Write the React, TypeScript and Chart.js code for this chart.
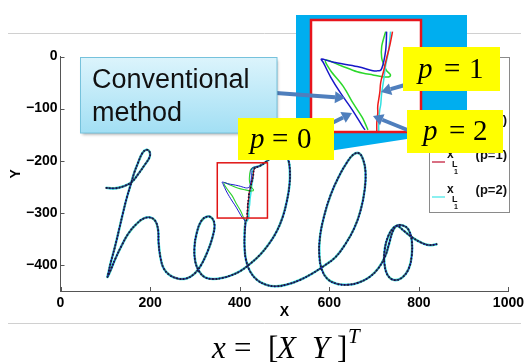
import React, { useEffect, useRef } from 'react';
import { Chart, registerables } from 'chart.js';
Chart.register(...registerables);

// ---------- axes ----------
const X_TICKS = [0, 200, 400, 600, 800, 1000];
const X_TICK_LABELS = ['0', '200', '400', '600', '800', '1000'];
const Y_TICKS = [0, -100, -200, -300, -400];
const Y_TICK_LABELS = ['0', '\u2212100', '\u2212200', '\u2212300', '\u2212400'];
const X_RANGE = [0, 1000];
const Y_RANGE = [-450, 0];

// ---------- handwriting trajectory "hello" (X, Y) ----------
// h, e and the rising stroke / top of the first l, down to the zoom window
const PATH_BEFORE: [number, number][] = [
  [101, -252], [121, -253], [141, -249], [159, -241], [174, -225], [188, -208], [199, -193], [199, -183],
  [192, -179], [183, -185], [174, -202], [165, -222], [157, -245], [148, -271], [139, -302], [130, -335],
  [121, -367], [112, -396], [107, -415], [105, -423],
  [112, -410], [123, -387], [137, -362], [152, -339], [170, -321], [185, -311], [201, -309], [212, -316],
  [218, -333], [219, -358], [223, -385], [230, -406], [243, -419], [261, -426], [281, -426], [299, -417],
  [314, -400], [328, -375], [339, -348], [344, -325], [339, -311], [328, -307], [314, -316], [304, -339],
  [299, -367], [301, -394], [310, -413], [323, -424], [341, -427], [361, -425],
  [381, -420], [401, -412], [423, -398], [445, -381], [465, -360], [483, -335], [496, -308], [505, -279],
  [511, -248], [512, -218], [508, -197], [499, -187], [485, -188], [472, -193], [459, -202], [445, -210],
];
// inside the zoom window (stem of the first l), one list per result
const WIN_RED: [number, number][] = [
  [433, -215], [430, -229], [427, -240], [424, -252], [421, -263], [420, -273], [418, -285], [418, -292], [417, -301], [417, -309],
];
const WIN_CYAN: [number, number][] = [
  [431, -215], [429, -233], [426, -247], [424, -261], [422, -273], [421, -284], [420, -289], [419, -299], [419, -310],
];
const WIN_BLUE: [number, number][] = [
  [427, -215], [426, -233], [422, -250], [418, -252], [413, -252], [397, -248], [373, -244], [361, -241],
  [363, -245], [370, -258], [380, -273], [392, -289], [402, -304], [405, -308],
];
const WIN_GREEN: [number, number][] = [
  [426, -215], [422, -229], [422, -240], [425, -248], [427, -252], [431, -256], [427, -258], [413, -256],
  [397, -253], [380, -247], [365, -242], [370, -252], [383, -267], [393, -283], [402, -296], [408, -308],
];
// rest of the first l, second l, o and the tail
const PATH_AFTER: [number, number][] = [
  [413, -319], [411, -342], [411, -367], [414, -390], [423, -412], [439, -429], [459, -438], [481, -441],
  [508, -437], [534, -429], [561, -417], [588, -402], [614, -385], [636, -360], [656, -329], [670, -295],
  [679, -256], [681, -222], [676, -199], [667, -186], [654, -188], [639, -204], [621, -231], [603, -266],
  [588, -308], [579, -348], [578, -383], [583, -408], [596, -427], [616, -436], [641, -438], [665, -434],
  [690, -423], [710, -406], [725, -383], [734, -358], [741, -337], [750, -325],
  [763, -324], [776, -331], [784, -352], [784, -383], [777, -408], [763, -424], [745, -429], [730, -419],
  [723, -396], [724, -369], [732, -344], [743, -329], [752, -325],
  [767, -335], [785, -347], [805, -357], [823, -362], [841, -360],
];
// zoom window in data units
const WIN_X = [350, 462];
const WIN_Y = [-310, -204];

const LEGEND_ITEMS = [
  { color: '#1c1cd0', sub: 'L', subNum: '2', tail: '' },
  { color: '#2fd02f', sub: 'L', subNum: '1', tail: '(p=0)' },
  { color: '#c01030', sub: 'L', subNum: '1', tail: '(p=1)' },
  { color: '#3ee6e6', sub: 'L', subNum: '1', tail: '(p=2)' },
];

const toXY = (arr: [number, number][]) => arr.map(([x, y]) => ({ x, y }));
const series = (win: [number, number][]) => toXY([...PATH_BEFORE, ...win, ...PATH_AFTER]);

function smoothPath(ctx: CanvasRenderingContext2D, pts: number[][]) {
  ctx.beginPath();
  ctx.moveTo(pts[0][0], pts[0][1]);
  for (let i = 0; i < pts.length - 1; i++) {
    const p0 = pts[i - 1] || pts[i];
    const p1 = pts[i];
    const p2 = pts[i + 1];
    const p3 = pts[i + 2] || p2;
    ctx.bezierCurveTo(
      p1[0] + (p2[0] - p0[0]) / 6, p1[1] + (p2[1] - p0[1]) / 6,
      p2[0] - (p3[0] - p1[0]) / 6, p2[1] - (p3[1] - p1[1]) / 6,
      p2[0], p2[1]
    );
  }
  ctx.stroke();
}

function arrow(ctx: CanvasRenderingContext2D, x1: number, y1: number, x2: number, y2: number) {
  const head = 10, hw = 12;
  const a = Math.atan2(y2 - y1, x2 - x1);
  const bx = x2 - head * Math.cos(a), by = y2 - head * Math.sin(a);
  ctx.strokeStyle = '#4f7fbd';
  ctx.fillStyle = '#4f7fbd';
  ctx.lineWidth = 4;
  ctx.lineCap = 'butt';
  ctx.beginPath(); ctx.moveTo(x1, y1); ctx.lineTo(bx, by); ctx.stroke();
  ctx.beginPath();
  ctx.moveTo(x2, y2);
  ctx.lineTo(bx + (hw / 2) * Math.sin(a), by - (hw / 2) * Math.cos(a));
  ctx.lineTo(bx - (hw / 2) * Math.sin(a), by + (hw / 2) * Math.cos(a));
  ctx.closePath(); ctx.fill();
}

function mathLabel(ctx: CanvasRenderingContext2D, px: number, eqx: number, dx: number, base: number, digit: string) {
  ctx.fillStyle = '#000';
  ctx.textAlign = 'left';
  ctx.textBaseline = 'alphabetic';
  ctx.font = 'italic 29px "Liberation Serif"';
  ctx.fillText('p', px, base);
  ctx.font = '29px "Liberation Serif"';
  ctx.fillText('=', eqx, base);
  ctx.fillText(digit, dx, base);
}

const overlay = {
  id: 'overlay',
  afterDraw(chart: any) {
    const ctx: CanvasRenderingContext2D = chart.ctx;
    const xs = chart.scales.x, ys = chart.scales.y;
    const area = chart.chartArea;
    ctx.save();

    // inward tick marks
    ctx.strokeStyle = '#555';
    ctx.lineWidth = 1;
    X_TICKS.forEach((v) => {
      const p = Math.round(xs.getPixelForValue(v)) + 0.5;
      ctx.beginPath(); ctx.moveTo(p, area.bottom); ctx.lineTo(p, area.bottom - 4); ctx.stroke();
    });
    Y_TICKS.forEach((v) => {
      const p = Math.round(ys.getPixelForValue(v)) + 0.5;
      ctx.beginPath(); ctx.moveTo(area.left, p); ctx.lineTo(area.left + 4, p); ctx.stroke();
    });

    // slide separator lines
    ctx.strokeStyle = '#d0d0d0';
    ctx.beginPath(); ctx.moveTo(8, 33.5); ctx.lineTo(521, 33.5); ctx.stroke();
    ctx.beginPath(); ctx.moveTo(8, 323.5); ctx.lineTo(521, 323.5); ctx.stroke();

    // legend box
    ctx.fillStyle = '#fff';
    ctx.fillRect(429.5, 57.5, 80, 155);
    ctx.strokeStyle = '#8a8a8a';
    ctx.strokeRect(429.5, 57.5, 80, 155);
    LEGEND_ITEMS.forEach((it, i) => {
      const b = 88 + i * 35;
      ctx.strokeStyle = it.color;
      ctx.lineWidth = 1.2;
      ctx.beginPath(); ctx.moveTo(432, b + 4); ctx.lineTo(445, b + 4); ctx.stroke();
      ctx.fillStyle = '#111';
      ctx.textAlign = 'left';
      ctx.textBaseline = 'alphabetic';
      ctx.font = 'bold 12px "Liberation Sans"';
      ctx.fillText('x', 447, b);
      ctx.font = 'bold 9px "Liberation Sans"';
      ctx.fillText(it.sub, 452, b + 9);
      ctx.font = 'bold 7px "Liberation Sans"';
      ctx.fillText(it.subNum, 454, b + 16);
      if (it.tail) {
        ctx.font = 'bold 13px "Liberation Sans"';
        ctx.textAlign = 'right';
        ctx.fillText(it.tail, 507, b + 1);
      }
    });

    // zoom-window pixel rectangle (through the scales)
    const bx0 = xs.getPixelForValue(WIN_X[0]);
    const bx1 = xs.getPixelForValue(WIN_X[1]);
    const by0 = ys.getPixelForValue(WIN_Y[1]);
    const by1 = ys.getPixelForValue(WIN_Y[0]);

    // cyan callout
    ctx.fillStyle = '#00aeef';
    ctx.fillRect(296, 15, 171, 123);
    ctx.beginPath();
    ctx.moveTo(300, 132); ctx.lineTo(420, 132); ctx.lineTo(420, 137); ctx.lineTo(290, 157); ctx.closePath();
    ctx.fill();

    // inset
    const IN = { x: 311, y: 20, w: 110, h: 112 };
    ctx.fillStyle = '#fff';
    ctx.fillRect(IN.x, IN.y, IN.w, IN.h);
    ctx.save();
    ctx.beginPath(); ctx.rect(IN.x, IN.y, IN.w, IN.h); ctx.clip();
    const mapIn = (arr: [number, number][]) => arr.map(([x, y]) => [
      IN.x + ((xs.getPixelForValue(x) - bx0) / (bx1 - bx0)) * IN.w,
      IN.y + ((ys.getPixelForValue(y) - by0) / (by1 - by0)) * IN.h,
    ]);
    ctx.lineWidth = 1.5;
    ctx.lineJoin = 'round';
    ctx.strokeStyle = '#2bd82b'; smoothPath(ctx, mapIn(WIN_GREEN));
    ctx.strokeStyle = '#1818c8'; smoothPath(ctx, mapIn(WIN_BLUE));
    ctx.strokeStyle = '#33e0e0'; smoothPath(ctx, mapIn(WIN_CYAN));
    ctx.strokeStyle = '#ee1a1a'; smoothPath(ctx, mapIn(WIN_RED));
    ctx.restore();
    ctx.strokeStyle = '#e8141c';
    ctx.lineWidth = 2.5;
    ctx.strokeRect(IN.x, IN.y, IN.w, IN.h);

    // small red box on the plot
    ctx.strokeStyle = '#e01414';
    ctx.lineWidth = 1.5;
    ctx.strokeRect(bx0, by0, bx1 - bx0, by1 - by0);

    // arrows
    arrow(ctx, 276, 93, 345, 98);
    arrow(ctx, 332, 123, 352, 113);
    arrow(ctx, 405, 85, 381, 92);
    arrow(ctx, 410, 131, 373, 116);

    // "Conventional method" box
    ctx.save();
    ctx.shadowColor = 'rgba(0,0,0,0.35)';
    ctx.shadowBlur = 3;
    ctx.shadowOffsetX = 1;
    ctx.shadowOffsetY = 2;
    const g = ctx.createLinearGradient(0, 57, 0, 133);
    g.addColorStop(0, '#dcf4fc');
    g.addColorStop(1, '#a2dff4');
    ctx.fillStyle = g;
    ctx.fillRect(80.5, 57.5, 196.5, 75.5);
    ctx.restore();
    ctx.strokeStyle = '#76c2dc';
    ctx.lineWidth = 1;
    ctx.strokeRect(80.5, 57.5, 196.5, 75.5);
    ctx.fillStyle = '#111';
    ctx.font = '27px "Liberation Sans"';
    ctx.textAlign = 'left';
    ctx.textBaseline = 'alphabetic';
    ctx.fillText('Conventional', 92, 88);
    ctx.fillText('method', 92, 121);

    // yellow labels
    ctx.fillStyle = '#ffff00';
    ctx.fillRect(238, 118, 96, 42);
    ctx.fillRect(403, 47, 97, 44);
    ctx.fillRect(407, 110, 96, 43);
    mathLabel(ctx, 250, 272, 297, 148, '0');
    mathLabel(ctx, 418, 444, 469, 78, '1');
    mathLabel(ctx, 423, 449, 473, 140, '2');

    // formula below the plot
    ctx.fillStyle = '#000';
    ctx.textAlign = 'left';
    ctx.font = 'italic 31px "Liberation Serif"';
    ctx.fillText('x', 212, 358);
    ctx.fillText('X', 277, 358);
    ctx.fillText('Y', 312, 358);
    ctx.font = '31px "Liberation Serif"';
    ctx.fillText('=', 234, 358);
    ctx.fillText('[', 268, 358);
    ctx.fillText(']', 337, 358);
    ctx.font = 'italic 21px "Liberation Serif"';
    ctx.fillText('T', 348, 343);

    ctx.restore();
  },
};

export default function App() {
  const ref = useRef<HTMLCanvasElement>(null);
  useEffect(() => {
    document.body.style.margin = '0';
    const tickFont = { family: '"Liberation Sans", Arial, sans-serif', weight: 'bold' as const, size: 14 };
    const chart = new Chart(ref.current as HTMLCanvasElement, {
      type: 'scatter',
      data: {
        datasets: [
          { label: 'x', data: series(WIN_RED), showLine: true, borderColor: '#15153c', borderWidth: 1.8, borderDash: [1.5, 1.8], pointRadius: 0, tension: 0.4, order: 0 },
          { label: 'xL2', data: series(WIN_BLUE), showLine: true, borderColor: '#1c1cd0', borderWidth: 1.0, pointRadius: 0, tension: 0.4, order: 1 },
          { label: 'p=0', data: series(WIN_GREEN), showLine: true, borderColor: '#2fd02f', borderWidth: 1.1, pointRadius: 0, tension: 0.4, order: 2 },
          { label: 'p=1', data: series(WIN_RED), showLine: true, borderColor: '#b0102a', borderWidth: 1.3, pointRadius: 0, tension: 0.4, order: 3 },
          { label: 'p=2', data: series(WIN_CYAN), showLine: true, borderColor: '#3ee6e6', borderWidth: 2.6, pointRadius: 0, tension: 0.4, order: 4 },
        ],
      },
      options: {
        animation: false,
        responsive: true,
        maintainAspectRatio: false,
        events: [],
        layout: { padding: { top: 56.5, right: 17.3, left: 0, bottom: 0 } },
        plugins: { legend: { display: false }, tooltip: { enabled: false } },
        scales: {
          x: {
            type: 'linear',
            min: X_RANGE[0],
            max: X_RANGE[1],
            afterBuildTicks: (s: any) => { s.ticks = X_TICKS.map((v) => ({ value: v })); },
            afterFit: (s: any) => { s.height = 72; },
            grid: { display: false, drawTicks: false },
            border: { display: true, color: '#555', width: 1 },
            ticks: {
              padding: 4, color: '#000', font: tickFont, maxRotation: 0, autoSkip: false,
              callback: (v: any) => X_TICK_LABELS[X_TICKS.indexOf(Number(v))] ?? '',
            },
            title: { display: true, text: 'X', color: '#000', font: tickFont, padding: { top: 0, bottom: 42.6 } },
          },
          y: {
            type: 'linear',
            min: Y_RANGE[0],
            max: Y_RANGE[1],
            afterBuildTicks: (s: any) => { s.ticks = Y_TICKS.map((v) => ({ value: v })); },
            afterFit: (s: any) => { s.width = 60.5; },
            grid: { display: false, drawTicks: false },
            border: { display: true, color: '#555', width: 1 },
            ticks: {
              padding: 3, color: '#000', font: tickFont, autoSkip: false,
              callback: (v: any) => Y_TICK_LABELS[Y_TICKS.indexOf(Number(v))] ?? '',
            },
            title: { display: true, text: 'Y', color: '#000', font: tickFont, padding: { top: 7.6, bottom: 0 } },
          },
        },
      },
      plugins: [overlay],
    } as any);
    return () => chart.destroy();
  }, []);
  return (
    <div style={{ position: 'absolute', left: 0, top: 0, width: 528, height: 363, background: '#fff' }}>
      <canvas ref={ref} />
    </div>
  );
}
